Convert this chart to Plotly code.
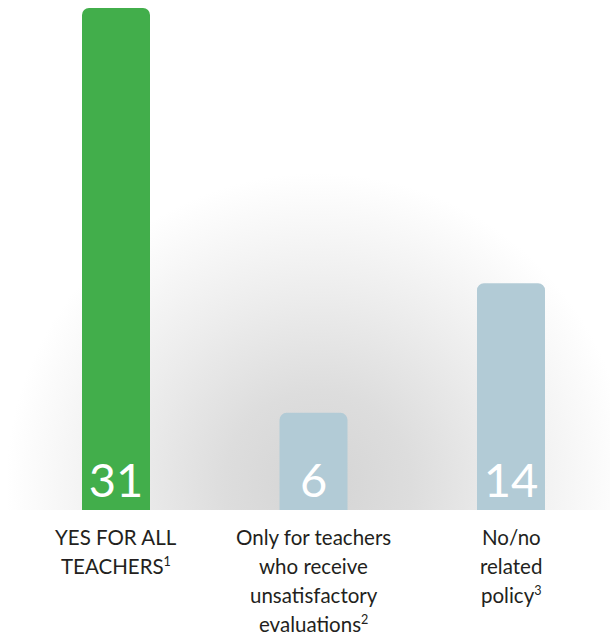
import base64
import plotly.graph_objects as go

# Policy categories, counts and bar colours
categories = ["yes_all", "unsatisfactory", "no_policy"]
values = [31, 6, 14]
bar_colors = ["#42ae4b", "#b2cbd6"]
label_lines = [
    ["YES FOR ALL", "TEACHERS", ],
    ["Only for teachers", "who receive", "unsatisfactory", "evaluations"],
    ["No/no", "related", "policy"],
]
footnotes = ["1", "2", "3"]

W, H = 610, 635
M_L, M_R, M_T, M_B = 18, 7, 8, 125
plot_w = W - M_L - M_R
plot_h = H - M_T - M_B

# Category axis scale: first bar centre and pixel spacing between bars
PX_PER_CAT = 197.5
FIRST_CENTER = 116
x0 = -(FIRST_CENTER - M_L) / PX_PER_CAT
x1 = x0 + plot_w / PX_PER_CAT
BAR_PX = 68

# Soft grey radial glow behind the bars, clipped at the baseline
glow_svg = f"""<svg xmlns='http://www.w3.org/2000/svg' width='{W}' height='{H - M_B}' viewBox='0 0 {W} {H - M_B}'>
<defs><radialGradient id='g' gradientUnits='userSpaceOnUse' cx='318' cy='485' r='312'>
<stop offset='0' stop-color='#d4d4d4'/>
<stop offset='0.3' stop-color='#dddddd'/>
<stop offset='0.6' stop-color='#ececec'/>
<stop offset='0.85' stop-color='#f8f8f8'/>
<stop offset='1' stop-color='#ffffff'/>
</radialGradient></defs>
<rect width='{W}' height='{H - M_B}' fill='url(#g)'/>
</svg>"""
glow_src = "data:image/svg+xml;base64," + base64.b64encode(glow_svg.encode()).decode()

colors = [bar_colors[0]] + [bar_colors[1]] * (len(values) - 1)

fig = go.Figure(
    go.Bar(
        x=categories,
        y=values,
        marker=dict(color=colors, line=dict(width=0), cornerradius=7),
        text=[str(v) for v in values],
        textposition="inside",
        insidetextanchor="start",
        textangle=0,
        textfont=dict(family="Lato", size=47, color="white"),
        hoverinfo="skip",
        cliponaxis=False,
    )
)

annotations = []
line_step = 29
for cat, lines, note in zip(categories, label_lines, footnotes):
    for i, line in enumerate(lines):
        if i == len(lines) - 1:
            line = f"{line}<span style='font-size:18px'><sup>{note}</sup></span>"
        annotations.append(
            dict(
                x=cat, xref="x", y=0, yref="paper",
                text=line, showarrow=False,
                xanchor="center", yanchor="middle",
                yshift=-27 - i * line_step,
                font=dict(family="Lato", size=20.5, color="#231f20"),
            )
        )

fig.update_layout(
    width=W, height=H,
    margin=dict(l=M_L, r=M_R, t=M_T, b=M_B),
    paper_bgcolor="white",
    plot_bgcolor="rgba(0,0,0,0)",
    bargap=1 - BAR_PX / PX_PER_CAT,
    showlegend=False,
    xaxis=dict(range=[x0, x1], showticklabels=False, showgrid=False, zeroline=False, showline=False, ticks=""),
    yaxis=dict(range=[0, 31], showticklabels=False, showgrid=False, zeroline=False, showline=False, ticks=""),
    annotations=annotations,
    images=[
        dict(
            source=glow_src,
            xref="paper", yref="paper",
            x=-M_L / plot_w, y=(H - M_B) / plot_h,
            sizex=W / plot_w, sizey=(H - M_B) / plot_h,
            xanchor="left", yanchor="top",
            sizing="stretch", layer="below",
        )
    ],
)

fig.write_html("out.html")
